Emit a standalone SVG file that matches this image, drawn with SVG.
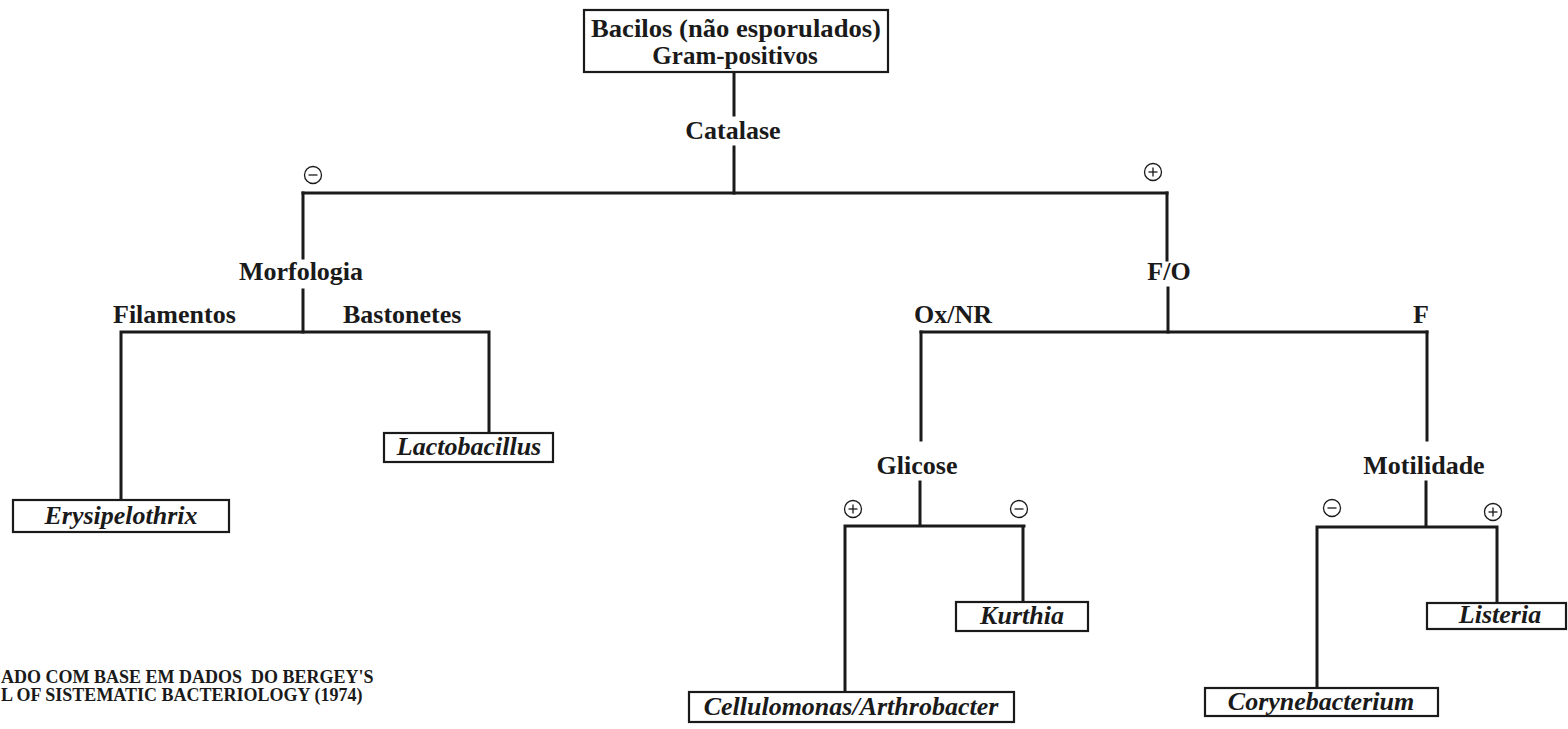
<svg xmlns="http://www.w3.org/2000/svg" width="1568" height="729" viewBox="0 0 1568 729">
  <style>
    .bg { fill: #ffffff; }
    .box { fill: #ffffff; stroke: #1a1a1a; stroke-width: 2.2; }
    .wire { fill: none; stroke: #1a1a1a; stroke-width: 3; stroke-linecap: square; }
    .lbl { font-family: "Liberation Serif", "Times New Roman", serif; font-weight: bold; font-size: 26px; fill: #1a1a1a; }
    .head { font-size: 25px; }
    .mid { text-anchor: middle; }
    .taxon { font-family: "Liberation Serif", "Times New Roman", serif; font-weight: bold; font-style: italic; font-size: 26px; fill: #1a1a1a; text-anchor: middle; }
    .sign { fill: #ffffff; stroke: #1a1a1a; stroke-width: 1.3; }
    .signbar { stroke: #1a1a1a; stroke-width: 1.3; }
    .note { font-family: "Liberation Serif", "Times New Roman", serif; font-weight: bold; font-size: 18px; fill: #1a1a1a; white-space: pre; }
  </style>
  <defs>
    <g id="minus"><circle class="sign" r="8.5"/><line class="signbar" x1="-4.5" y1="0" x2="4.5" y2="0"/></g>
    <g id="plus"><circle class="sign" r="8.5"/><line class="signbar" x1="-4.5" y1="0" x2="4.5" y2="0"/><line class="signbar" x1="0" y1="-4.5" x2="0" y2="4.5"/></g>
  </defs>
  <rect class="bg" x="0" y="0" width="1568" height="729"/>

  <!-- connectors of the key -->
  <g id="connectors">
    <path class="wire" d="M734 72 V115 M734 147 V193"/>
    <path class="wire" d="M303 193 H1167"/>
    <path class="wire" d="M303 193 V258 M303 290 V332"/>
    <path class="wire" d="M121 332 H489 M121 332 V500 M489 332 V433"/>
    <path class="wire" d="M1167 193 V260 M1168 288 V332"/>
    <path class="wire" d="M921 332 H1427"/>
    <path class="wire" d="M921 332 V440 M920 482 V526 M845 526 H1024 M845 526 V692 M1023 526 V602"/>
    <path class="wire" d="M1427 332 V440 M1426 482 V527 M1317 527 H1497 M1317 527 V688 M1497 527 V603"/>
  </g>

  <!-- test results on the branches -->
  <g id="signs">
    <use href="#minus" x="313" y="175"/>
    <use href="#plus" x="1153" y="172"/>
    <use href="#plus" x="853" y="509"/>
    <use href="#minus" x="1019" y="509"/>
    <use href="#minus" x="1332" y="508"/>
    <use href="#plus" x="1493" y="512"/>
  </g>

  <!-- tests and branch labels -->
  <g id="tests">
    <text class="lbl mid" x="733" y="139">Catalase</text>
    <text class="lbl mid" x="301" y="280">Morfologia</text>
    <text class="lbl" x="113" y="323">Filamentos</text>
    <text class="lbl" x="343" y="323">Bastonetes</text>
    <text class="lbl mid" x="1169" y="280">F/O</text>
    <text class="lbl" x="914" y="323">Ox/NR</text>
    <text class="lbl mid" x="1421" y="323">F</text>
    <text class="lbl mid" x="917" y="474">Glicose</text>
    <text class="lbl mid" x="1424" y="474">Motilidade</text>
  </g>

  <g id="root">
    <rect class="box" x="584" y="10" width="304" height="62"/>
    <text class="lbl head mid" x="736" y="37" textLength="290" lengthAdjust="spacingAndGlyphs">Bacilos (não esporulados)</text>
    <text class="lbl head mid" x="735" y="64">Gram-positivos</text>
  </g>

  <g id="erysipelothrix">
    <rect class="box" x="13" y="500" width="216" height="32"/>
    <text class="taxon" x="121" y="524">Erysipelothrix</text>
  </g>
  <g id="lactobacillus">
    <rect class="box" x="384" y="433" width="169" height="29"/>
    <text class="taxon" x="469" y="455">Lactobacillus</text>
  </g>
  <g id="cellulomonas-arthrobacter">
    <rect class="box" x="689" y="692" width="325" height="30"/>
    <text class="taxon" x="851" y="715">Cellulomonas/Arthrobacter</text>
  </g>
  <g id="kurthia">
    <rect class="box" x="956" y="602" width="132" height="29"/>
    <text class="taxon" x="1022" y="624">Kurthia</text>
  </g>
  <g id="corynebacterium">
    <rect class="box" x="1205" y="688" width="233" height="28"/>
    <text class="taxon" x="1321" y="710">Corynebacterium</text>
  </g>
  <g id="listeria">
    <rect class="box" x="1427" y="603" width="139" height="26"/>
    <text class="taxon" x="1500" y="623">Listeria</text>
  </g>

  <!-- source note at the lower left -->
  <g id="source">
    <text class="note" x="1" y="683" xml:space="preserve">ADO COM BASE EM DADOS  DO BERGEY'S</text>
    <text class="note" x="1" y="701">L OF SISTEMATIC BACTERIOLOGY (1974)</text>
  </g>
</svg>
